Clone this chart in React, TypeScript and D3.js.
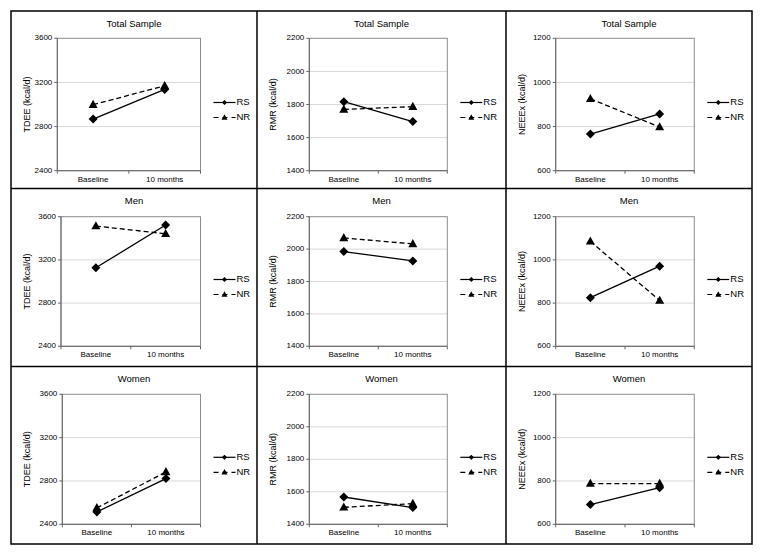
import React from "react";
import * as d3 from "d3";

const categories = ["Baseline", "10 months"];
const rowTitles = ["Total Sample", "Men", "Women"];
const measureLabels = ["TDEE (kcal/d)", "RMR (kcal/d)", "NEEEx (kcal/d)"];
const seriesNames = ["RS", "NR"];

const yDomains: [number, number][] = [[2400, 3600], [1400, 2200], [600, 1200]];
const yTicks = [
  [2400, 2800, 3200, 3600],
  [1400, 1600, 1800, 2000, 2200],
  [600, 800, 1000, 1200],
];

// [row][category]
const tdeeRS = [[2868, 3137], [3127, 3523], [2514, 2822]];
const tdeeNR = [[2998, 3170], [3513, 3442], [2551, 2883]];
const rmrRS = [[1817, 1697], [1985, 1927], [1568, 1503]];
const rmrNR = [[1770, 1787], [2069, 2032], [1505, 1527]];
const neeexRS = [[766, 857], [825, 971], [691, 769]];
const neeexNR = [[926, 798], [1086, 812], [788, 788]];

const rsByMeasure = [tdeeRS, rmrRS, neeexRS];
const nrByMeasure = [tdeeNR, rmrNR, neeexNR];

// layout
const colX = [11, 257, 506, 752];
const rowY = [11, 188.5, 366.5, 544];
const plotTopByRow = [38.3, 216.7, 394.3];
const plotBottomByRow = [170.7, 346.3, 524.3];
const plotLeft = [
  [57.3, 309.3, 555.7],
  [61, 309.3, 555.7],
  [62.3, 309.3, 555.7],
];
const plotRight = [200.5, 447.3, 694.3];
const FONT = "'Liberation Sans', Arial, sans-serif";

function diamond(x: number, y: number, h: number) {
  return `M${x},${y - h}L${x + h},${y}L${x},${y + h}L${x - h},${y}Z`;
}
function triangle(x: number, y: number, w: number) {
  const h = w * 0.9;
  return `M${x},${y - h * 0.6}L${x + w / 2},${y + h * 0.4}L${x - w / 2},${y + h * 0.4}Z`;
}

function Panel({ r, c }: { r: number; c: number }) {
  const cx0 = colX[c];
  const cx1 = colX[c + 1];
  const cy0 = rowY[r];
  const left = plotLeft[r][c];
  const right = plotRight[c];
  const top = plotTopByRow[r];
  const bottom = plotBottomByRow[r];
  const y = d3.scaleLinear().domain(yDomains[c]).range([bottom, top]);
  const x = d3.scaleBand<string>().domain(categories).range([left, right]);
  const xc = (k: string) => (x(k) as number) + x.bandwidth() / 2;
  const line = d3
    .line<number>()
    .x((_, i) => xc(categories[i]))
    .y((v) => y(v));
  const rs = rsByMeasure[c][r];
  const nr = nrByMeasure[c][r];
  const midY = (top + bottom) / 2;
  const legY = [midY - 2, midY + 13];
  const lx0 = right + 13;
  const lx1 = right + 35;
  const ticks = yTicks[c];
  return (
    <g>
      <text
        x={(cx0 + cx1) / 2}
        y={cy0 + 13}
        textAnchor="middle"
        dominantBaseline="middle"
        fontSize={9.5}
        fontFamily={FONT}
        fill="#000"
      >
        {rowTitles[r]}
      </text>
      <text
        transform={`translate(${cx0 + 17},${midY}) rotate(-90)`}
        textAnchor="middle"
        dominantBaseline="middle"
        fontSize={9}
        fontFamily={FONT}
        fill="#000"
      >
        {measureLabels[c]}
      </text>
      {ticks.slice(1, -1).map((t) => (
        <line key={"g" + t} x1={left} x2={right} y1={y(t)} y2={y(t)} stroke="#d9d9d9" strokeWidth={1} />
      ))}
      <rect x={left} y={top} width={right - left} height={bottom - top} fill="none" stroke="#8c8c8c" strokeWidth={1} />
      <line x1={left} x2={left} y1={top} y2={bottom} stroke="#666" strokeWidth={1} />
      <line x1={left} x2={right} y1={bottom} y2={bottom} stroke="#666" strokeWidth={1} />
      {ticks.map((t) => (
        <g key={"t" + t}>
          <line x1={left - 3} x2={left} y1={y(t)} y2={y(t)} stroke="#666" strokeWidth={1} />
          <text
            x={left - 5}
            y={y(t)}
            textAnchor="end"
            dominantBaseline="middle"
            fontSize={8}
            fontFamily={FONT}
            fill="#000"
          >
            {t}
          </text>
        </g>
      ))}
      {[left, left + x.bandwidth(), right].map((tx, i) => (
        <line key={"xt" + i} x1={tx} x2={tx} y1={bottom} y2={bottom + 3} stroke="#666" strokeWidth={1} />
      ))}
      {categories.map((k) => (
        <text
          key={k}
          x={xc(k)}
          y={bottom + 9}
          textAnchor="middle"
          dominantBaseline="middle"
          fontSize={8}
          fontFamily={FONT}
          fill="#000"
        >
          {k}
        </text>
      ))}
      <path d={line(nr) || ""} fill="none" stroke="#000" strokeWidth={1.3} strokeDasharray="5,3" />
      <path d={line(rs) || ""} fill="none" stroke="#000" strokeWidth={1.3} />
      {nr.map((v, i) => (
        <path key={"nr" + i} d={triangle(xc(categories[i]), y(v), 9)} fill="#000" />
      ))}
      {rs.map((v, i) => (
        <path key={"rs" + i} d={diamond(xc(categories[i]), y(v), 4.5)} fill="#000" />
      ))}
      {/* legend */}
      <line x1={lx0} x2={lx1} y1={legY[0]} y2={legY[0]} stroke="#000" strokeWidth={1.2} />
      <path d={diamond((lx0 + lx1) / 2, legY[0], 2.6)} fill="#000" />
      <text x={lx1 + 1} y={legY[0]} dominantBaseline="middle" fontSize={9.5} fontFamily={FONT} fill="#000">
        {seriesNames[0]}
      </text>
      <line x1={lx0} x2={lx1} y1={legY[1]} y2={legY[1]} stroke="#000" strokeWidth={1.2} strokeDasharray="5,4" />
      <path d={triangle((lx0 + lx1) / 2, legY[1], 6)} fill="#000" />
      <text x={lx1 + 1} y={legY[1]} dominantBaseline="middle" fontSize={9.5} fontFamily={FONT} fill="#000">
        {seriesNames[1]}
      </text>
    </g>
  );
}

export default function App() {
  const rows = [0, 1, 2];
  const cols = [0, 1, 2];
  return (
    <svg
      width={764}
      height={557}
      style={{ position: "absolute", left: 0, top: 0, background: "#fff" }}
    >
      <rect x={0} y={0} width={764} height={557} fill="#fff" />
      {rows.map((r) => cols.map((c) => <Panel key={r + "-" + c} r={r} c={c} />))}
      <rect
        x={colX[0]}
        y={rowY[0]}
        width={colX[3] - colX[0]}
        height={rowY[3] - rowY[0]}
        fill="none"
        stroke="#000"
        strokeWidth={1.5}
      />
      {[1, 2].map((i) => (
        <line key={"v" + i} x1={colX[i]} x2={colX[i]} y1={rowY[0]} y2={rowY[3]} stroke="#000" strokeWidth={1.5} />
      ))}
      {[1, 2].map((i) => (
        <line key={"h" + i} x1={colX[0]} x2={colX[3]} y1={rowY[i]} y2={rowY[i]} stroke="#000" strokeWidth={1.5} />
      ))}
    </svg>
  );
}
